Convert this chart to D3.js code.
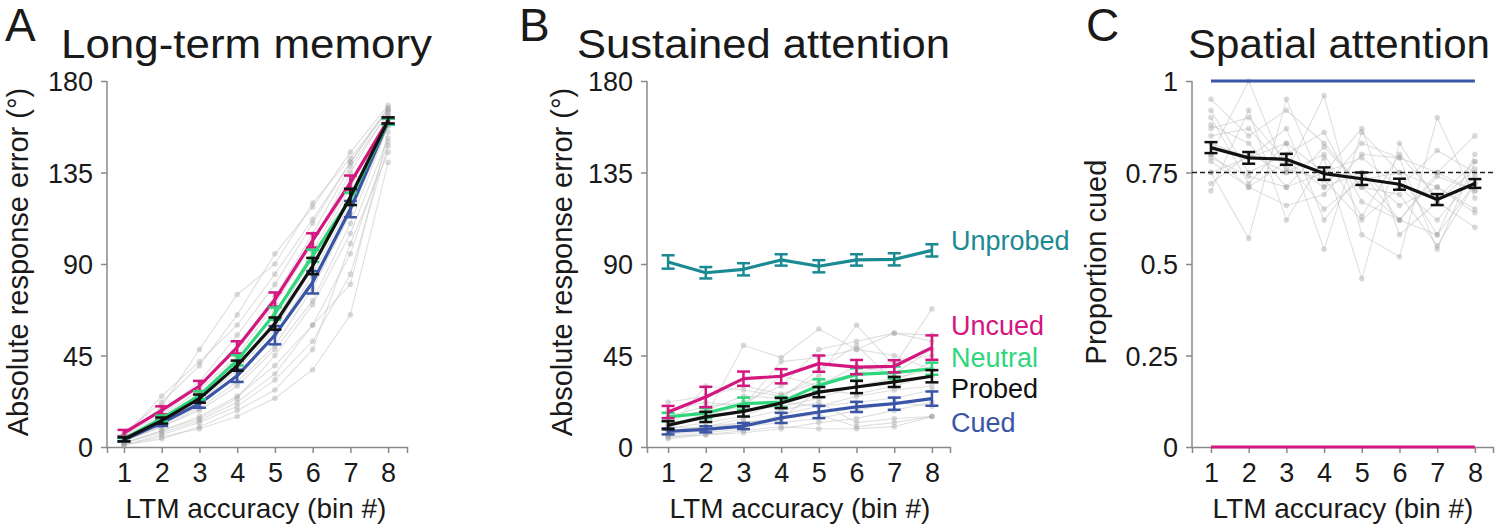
<!DOCTYPE html>
<html>
<head>
<meta charset="utf-8">
<script src="https://cdn.jsdelivr.net/npm/d3@7"></script>
<style>
  html, body { margin: 0; padding: 0; background: #fff; }
  svg { display: block; font-family: "Liberation Sans", Arial, Helvetica, sans-serif; }
</style>
</head>
<body>
<svg id="chart" width="1503" height="529"></svg>
<script>
// ---------------- DATA ----------------
const bins = [1, 2, 3, 4, 5, 6, 7, 8];
const errTicks = [0, 45, 90, 135, 180];
const propTicks = [0, 0.25, 0.5, 0.75, 1];
const propTickLabels = ["0", "0.25", "0.5", "0.75", "1"];

// Panel A: Long-term memory (absolute response error, deg)
const ltmUncued  = [6.9, 18, 30, 49, 72.5, 101.6, 130, 160.6];
const ltmUncuedSE = [1.5, 2, 2.5, 3, 3.5, 3.5, 3.5, 1.5];
const ltmNeutral = [4, 14, 25.4, 42.6, 65.6, 94, 122, 160];
const ltmNeutralSE = [1, 1.5, 2, 2.5, 3, 3, 3, 1.5];
const ltmProbed  = [3.8, 13, 23.8, 40, 60.7, 89, 123, 160.6];
const ltmProbedSE = [1, 1.5, 2, 2.5, 3, 4, 4, 1.5];
const ltmCued    = [3.6, 11.8, 21.3, 35, 55, 81, 117, 160];
const ltmCuedSE  = [1, 1.5, 2, 3, 4.5, 5.5, 4, 1.5];
const ltmSubjects = [
  [2, 8, 15, 25, 40, 60, 95, 150],
  [3, 10, 18, 30, 48, 72, 110, 158],
  [5, 15, 28, 45, 70, 100, 135, 165],
  [1, 6, 12, 20, 33, 52, 85, 148],
  [4, 12, 22, 38, 58, 88, 125, 162],
  [6, 18, 32, 55, 80, 110, 140, 167],
  [1, 5, 9, 15, 24, 38, 65, 140],
  [3, 11, 20, 36, 55, 85, 120, 160],
  [7, 22, 40, 65, 95, 118, 145, 168],
  [4, 14, 26, 44, 66, 96, 130, 163],
  [2, 7, 13, 22, 36, 60, 80, 155],
  [5, 20, 48, 75, 90, 120, 142, 166],
  [3, 10, 19, 32, 50, 78, 115, 158],
  [6, 16, 30, 50, 74, 105, 138, 164],
  [1, 4, 10, 18, 28, 48, 100, 145],
  [3, 12, 24, 40, 62, 93, 128, 161],
  [2, 8, 14, 24, 45, 70, 105, 152],
  [5, 25, 42, 60, 85, 112, 140, 166]
];

// Panel B: Sustained attention
const saUnprobed = [91, 85.7, 87.4, 92, 88.9, 92, 92.3, 96.7];
const saUnprobedSE = [3.3, 2.8, 3, 2.8, 3, 2.8, 3, 3];
const saUncued   = [17.2, 24.6, 33.6, 34.8, 41, 39.3, 39.7, 48.9];
const saUncuedSE = [3, 5, 3.5, 3.5, 4, 3.5, 3, 6];
const saNeutral  = [14.8, 16.7, 21.3, 22.1, 30.3, 35.7, 36.6, 38.5];
const saNeutralSE = [2, 2.5, 3, 2.5, 3, 3, 3, 3];
const saProbed   = [10.7, 14.8, 17.5, 21.6, 27, 29.5, 32, 34.8];
const saProbedSE = [2, 2.5, 2.5, 2.5, 2.5, 3, 2.5, 3];
const saCued     = [7.7, 8.7, 10.3, 14.3, 17.2, 19.7, 21.3, 23.8];
const saCuedSE   = [1.5, 1.5, 1.5, 2.5, 3, 2.5, 3, 3.5];
const saSubjects = [
  [10, 15, 50, 44, 58, 48, 56, 52],
  [8, 30, 28, 25, 35, 60, 40, 68],
  [5, 6, 8, 10, 9, 9, 10, 15],
  [15, 20, 22, 30, 48, 52, 56, 55],
  [12, 14, 18, 20, 24, 30, 34, 38],
  [7, 10, 12, 14, 28, 26, 30, 35],
  [22, 25, 30, 26, 32, 36, 42, 45],
  [9, 12, 15, 22, 20, 25, 28, 30],
  [6, 8, 10, 12, 14, 18, 22, 20],
  [14, 18, 25, 24, 38, 50, 32, 42],
  [5, 7, 9, 16, 20, 22, 24, 28],
  [11, 16, 20, 35, 30, 40, 36, 48],
  [8, 10, 14, 18, 22, 12, 14, 15],
  [4, 6, 7, 9, 12, 14, 18, 22],
  [18, 22, 20, 42, 44, 48, 45, 38],
  [10, 9, 12, 14, 16, 10, 12, 15]
];

// Panel C: Spatial attention (proportion cued)
const spProbed   = [0.818, 0.79, 0.786, 0.747, 0.733, 0.718, 0.676, 0.72];
const spProbedSE = [0.015, 0.016, 0.015, 0.017, 0.017, 0.015, 0.015, 0.012];
const spCued     = [1, 1, 1, 1, 1, 1, 1, 1];
const spUncued   = [0, 0, 0, 0, 0, 0, 0, 0];
const spChance   = 0.75;
const spSubjects = [
  [0.95, 0.85, 0.92, 0.83, 0.71, 0.62, 0.75, 0.85],
  [0.90, 0.72, 0.83, 0.54, 0.86, 0.75, 0.58, 0.72],
  [0.80, 1.00, 0.75, 0.96, 0.58, 0.52, 0.90, 0.68],
  [0.75, 0.57, 0.95, 0.71, 0.83, 0.79, 0.54, 0.78],
  [0.70, 0.92, 0.62, 0.79, 0.46, 0.83, 0.67, 0.60],
  [0.88, 0.83, 0.71, 0.75, 0.79, 0.71, 0.81, 0.75],
  [0.83, 0.79, 0.87, 0.62, 0.75, 0.66, 0.71, 0.65],
  [0.92, 0.75, 0.80, 0.86, 0.67, 0.62, 0.58, 0.80],
  [0.78, 0.71, 0.66, 0.69, 0.80, 0.79, 0.75, 0.70],
  [0.85, 0.87, 0.76, 0.73, 0.62, 0.71, 0.62, 0.74],
  [0.75, 0.79, 0.83, 0.75, 0.87, 0.58, 0.67, 0.76],
  [0.79, 0.74, 0.71, 0.82, 0.71, 0.69, 0.55, 0.72],
  [0.87, 0.90, 0.78, 0.65, 0.73, 0.75, 0.71, 0.64],
  [0.72, 0.80, 0.75, 0.80, 0.63, 0.80, 0.68, 0.78],
  [0.80, 0.71, 0.78, 0.71, 0.75, 0.62, 0.74, 0.70]
];

const legendLabels = ["Unprobed", "Uncued", "Neutral", "Probed", "Cued"];

// ---------------- STYLE ----------------
const C = {
  uncued: "#d4177f",
  neutral: "#2fd67c",
  probed: "#111111",
  cued: "#3b55a6",
  unprobed: "#1b8a93",
  axis: "#8a8a8a",
  text: "#1a1a1a"
};

const svg = d3.select("#chart");
const Y0 = 447, Y1 = 81;

function panel(opts) {
  const g = svg.append("g");
  const x = d3.scaleLinear().domain(opts.xDomain).range(opts.xRange);
  const y = d3.scaleLinear().domain(opts.yDomain).range([Y0, Y1]);

  const xAxis = d3.axisBottom(x).tickValues(bins).tickSize(6).tickPadding(10).tickFormat(d3.format("d"));
  const gx = g.append("g").attr("transform", `translate(0,${Y0})`).call(xAxis);
  const yAxis = d3.axisLeft(y).tickValues(opts.yTicks).tickSize(6).tickPadding(8)
    .tickFormat((d, i) => opts.yLabels ? opts.yLabels[i] : d);
  const gy = g.append("g").attr("transform", `translate(${opts.xRange[0]},0)`).call(yAxis);
  [gx, gy].forEach(a => {
    a.select(".domain").attr("stroke", C.axis).attr("stroke-width", 1.5);
    a.selectAll(".tick line").attr("stroke", C.axis).attr("stroke-width", 1.5);
    a.selectAll(".tick text").attr("fill", C.text).attr("font-size", 27)
      .attr("font-family", "Liberation Sans, Arial, sans-serif");
  });
  gy.select(".domain").attr("d", `M-0,${Y0}V${Y1}`);
  gy.selectAll(".tick text").attr("dy", "0.36em");
  gx.selectAll(".tick text").attr("dy", "0.7em");

  const line = d3.line().x((d, i) => x(bins[i])).y(d => y(d));
  const sg = g.append("g");
  opts.subjects.forEach(s => {
    sg.append("path").attr("d", line(s)).attr("fill", "none")
      .attr("stroke", "#c4c4c4").attr("stroke-opacity", 0.55).attr("stroke-width", 1.1);
  });
  opts.subjects.forEach(s => {
    sg.selectAll(null).data(s).enter().append("circle")
      .attr("cx", (d, i) => x(bins[i])).attr("cy", d => y(d)).attr("r", 2.8)
      .attr("fill", "#a0a0a0").attr("fill-opacity", 0.38);
  });

  return { g, x, y, line };
}

function series(p, vals, se, color) {
  const gg = p.g.append("g");
  gg.append("path").attr("d", p.line(vals)).attr("fill", "none")
    .attr("stroke", color).attr("stroke-width", 3.2).attr("stroke-linejoin", "round");
  if (se) {
    vals.forEach((v, i) => {
      const cx = p.x(bins[i]);
      const t = p.y(v + se[i]), b = p.y(v - se[i]);
      gg.append("line").attr("x1", cx).attr("x2", cx).attr("y1", t).attr("y2", b)
        .attr("stroke", color).attr("stroke-width", 2.5);
      [t, b].forEach(yy => gg.append("line").attr("x1", cx - 6.5).attr("x2", cx + 6.5)
        .attr("y1", yy).attr("y2", yy).attr("stroke", color).attr("stroke-width", 2.5));
    });
  }
}

function text(x, y, str, size, opts = {}) {
  const t = svg.append("text").attr("x", x).attr("y", y).text(str)
    .attr("font-size", size).attr("fill", opts.fill || C.text)
    .attr("text-anchor", opts.anchor || "start");
  if (opts.rotate) t.attr("transform", `rotate(-90,${x},${y})`);
  if (opts.len) t.attr("textLength", opts.len).attr("lengthAdjust", "spacingAndGlyphs");
  return t;
}

// ---------- Panel A ----------
const pA = panel({ xDomain: [0.55, 8.5], xRange: [107, 407], yDomain: [0, 180],
  yTicks: errTicks, subjects: ltmSubjects });
series(pA, ltmCued, ltmCuedSE, C.cued);
series(pA, ltmUncued, ltmUncuedSE, C.uncued);
series(pA, ltmNeutral, ltmNeutralSE, C.neutral);
series(pA, ltmProbed, ltmProbedSE, C.probed);

// ---------- Panel B ----------
const pB = panel({ xDomain: [0.44, 8.48], xRange: [647, 950], yDomain: [0, 180],
  yTicks: errTicks, subjects: saSubjects });
series(pB, saUnprobed, saUnprobedSE, C.unprobed);
series(pB, saCued, saCuedSE, C.cued);
series(pB, saNeutral, saNeutralSE, C.neutral);
series(pB, saUncued, saUncuedSE, C.uncued);
series(pB, saProbed, saProbedSE, C.probed);

// ---------- Panel C ----------
const pC = panel({ xDomain: [0.497, 8.48], xRange: [1192, 1493], yDomain: [0, 1],
  yTicks: propTicks, yLabels: propTickLabels, subjects: spSubjects });
pC.g.append("line").attr("x1", pC.x.range()[0]).attr("x2", pC.x.range()[1])
  .attr("y1", pC.y(spChance)).attr("y2", pC.y(spChance))
  .attr("stroke", "#222").attr("stroke-width", 1.5).attr("stroke-dasharray", "5,3");
series(pC, spCued, null, C.cued);
series(pC, spUncued, null, C.uncued);
series(pC, spProbed, spProbedSE, C.probed);

// ---------- Text ----------
text(5, 41, "A", 46);
text(519, 41, "B", 46);
text(1086, 41, "C", 46);
text(61, 58, "Long-term memory", 40, { len: 371 });
text(577, 58, "Sustained attention", 40, { len: 373 });
text(1188, 58, "Spatial attention", 40, { len: 302 });

text(28, 262, "Absolute response error (°)", 29, { anchor: "middle", rotate: true });
text(572, 262, "Absolute response error (°)", 29, { anchor: "middle", rotate: true });
text(1106, 262, "Proportion cued", 29, { anchor: "middle", rotate: true });

text(256, 518, "LTM accuracy (bin #)", 28, { anchor: "middle" });
text(800, 518, "LTM accuracy (bin #)", 28, { anchor: "middle" });
text(1343, 518, "LTM accuracy (bin #)", 28, { anchor: "middle" });

const legendY = [250, 335, 367, 398, 432];
const legendCol = [C.unprobed, C.uncued, C.neutral, C.probed, C.cued];
legendLabels.forEach((l, i) => text(951, legendY[i], l, 27, { fill: legendCol[i] }));
</script>
</body>
</html>
